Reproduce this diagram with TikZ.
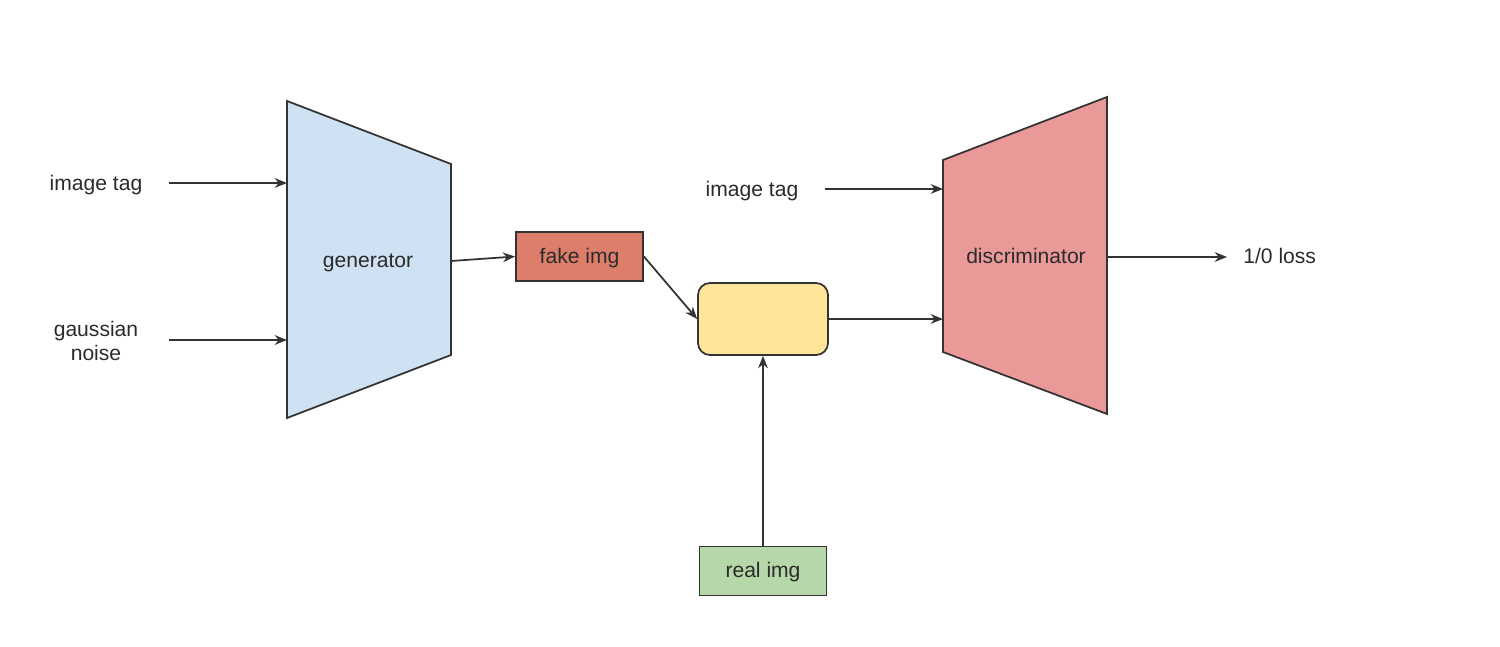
\documentclass[tikz,border=0pt]{standalone}
\usepackage{fontspec}
\setmainfont{Liberation Sans}
\usetikzlibrary{arrows.meta}
\definecolor{genblue}{HTML}{CFE2F3}
\definecolor{fakered}{HTML}{DD7E6B}
\definecolor{mixyellow}{HTML}{FFE599}
\definecolor{realgreen}{HTML}{B6D7A8}
\definecolor{discpink}{HTML}{EA9999}
\definecolor{edge}{HTML}{333333}
\definecolor{txt}{HTML}{2B2B2B}
\begin{document}
\begin{tikzpicture}[x=0.02cm,y=-0.02cm,
  every node/.style={font=\fontsize{12}{14}\selectfont, text=txt},
  shapeline/.style={draw=edge, line width=1pt},
  boxnode/.style={shapeline, minimum width=127*0.02cm, minimum height=49*0.02cm,
                  inner sep=0pt, text height=10pt, text depth=2.6pt},
  flow/.style={draw=edge, line width=1pt, -{Stealth[length=7pt,width=5.5pt]}},
  lbl/.style={align=center, inner sep=0pt},
  baselbl/.style={inner sep=0pt, anchor=base}]
\useasboundingbox (0,0) rectangle (1500,646);

% generator trapezoid
\filldraw[shapeline, fill=genblue] (287,101) -- (451,164) -- (451,355) -- (287,418) -- cycle;
\node[baselbl] (gen) at (368,267) {generator};
\coordinate (genTag) at (287,183);
\coordinate (genNoise) at (287,340);
\coordinate (genOut) at (451,261);

% discriminator trapezoid
\filldraw[shapeline, fill=discpink] (943,160) -- (1107,97) -- (1107,414) -- (943,352) -- cycle;
\node[baselbl] (disc) at (1026,263) {discriminator};
\coordinate (discTag) at (943,189);
\coordinate (discIn) at (943,319);
\coordinate (discOut) at (1107,257);

% inputs and output labels
\node[baselbl] (tagA) at (96,190) {image tag};
\node[lbl] (noise) at (96,341) {gaussian\\noise};
\node[baselbl] (tagB) at (752,196) {image tag};
\node[baselbl, anchor=base west] (loss) at (1243,263) {1/0 loss};
\coordinate (tagAout) at (169,183);
\coordinate (noiseOut) at (169,340);
\coordinate (tagBout) at (825,189);
\coordinate (lossIn) at (1227,257);

% image boxes
\node[boxnode, fill=fakered] (fake) at (579.5,256.5) {fake img};
\node[boxnode, fill=realgreen] (real) at (763,571) {real img};
\node[shapeline, fill=mixyellow, rounded corners=12*0.02cm,
      minimum width=130*0.02cm, minimum height=72*0.02cm] (mix) at (763,319) {};

% connectors
\draw[flow] (tagAout) -- (genTag);
\draw[flow] (noiseOut) -- (genNoise);
\draw[flow] (genOut) -- (fake.west);
\draw[flow] (fake.east) -- (mix.west);
\draw[flow] (real.north) -- (mix.south);
\draw[flow] (mix.east) -- (discIn);
\draw[flow] (tagBout) -- (discTag);
\draw[flow] (discOut) -- (lossIn);
\end{tikzpicture}
\end{document}
